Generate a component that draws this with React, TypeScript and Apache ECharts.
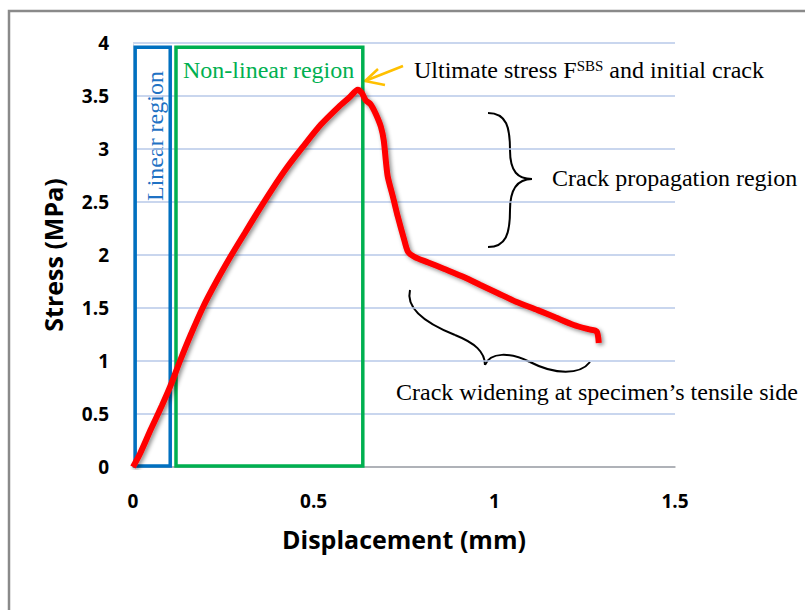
import React, { useEffect, useRef } from "react";
import * as echarts from "echarts";

// Displacement (mm) and stress (MPa)
const displacement = [
  0, 0.02, 0.05, 0.08, 0.103, 0.13, 0.16, 0.194, 0.23, 0.27, 0.31, 0.344, 0.385, 0.427, 0.47,
  0.52, 0.57, 0.6, 0.622, 0.633, 0.644, 0.658, 0.672, 0.686, 0.694, 0.7, 0.705, 0.72, 0.733,
  0.75, 0.761, 0.78, 0.817, 0.86, 0.917, 0.96, 1.01, 1.06, 1.12, 1.17, 1.22, 1.26, 1.283, 1.289,
];
const stress = [
  0, 0.13, 0.36, 0.58, 0.76, 1.0, 1.25, 1.51, 1.745, 1.985, 2.21, 2.4, 2.62, 2.83, 3.02,
  3.23, 3.4, 3.49, 3.56, 3.53, 3.46, 3.42, 3.33, 3.21, 3.08, 2.88, 2.74, 2.54, 2.36,
  2.15, 2.03, 1.98, 1.93, 1.87, 1.79, 1.72, 1.64, 1.56, 1.48, 1.41, 1.34, 1.3, 1.28, 1.17,
];

// Region boxes in data units: [xStart, yStart, xEnd, yEnd]
const linearRegion = [0.006, 0.01, 0.103, 3.96];
const nonLinearRegion = [0.119, 0.01, 0.636, 3.96];

const xTicks = { min: 0, max: 1.5, interval: 0.5 };
const yTicks = { min: 0, max: 4, interval: 0.5 };

export default function App() {
  const ref = useRef<HTMLDivElement>(null);

  useEffect(() => {
    if (!ref.current) return;
    const chart = echarts.init(ref.current, null, { renderer: "svg" });
    const serif = "'Liberation Serif', 'Times New Roman', serif";
    const sans = "'Open Sans', 'Noto Sans', sans-serif";

    const brace = (segs: number[][]) =>
      segs.map((s) => ({
        type: "bezierCurve",
        shape: { x1: s[0], y1: s[1], cpx1: s[2], cpy1: s[3], cpx2: s[4], cpy2: s[5], x2: s[6], y2: s[7] },
        style: { stroke: "#000", lineWidth: 2, fill: "none" },
        silent: true,
      }));

    chart.setOption({
      animation: false,
      backgroundColor: "#fff",
      grid: { left: 133, right: 130, top: 43, bottom: 143, containLabel: false },
      xAxis: {
        type: "value",
        min: xTicks.min,
        max: xTicks.max,
        interval: xTicks.interval,
        name: "Displacement (mm)",
        nameLocation: "middle",
        nameGap: 59,
        nameTextStyle: { fontFamily: sans, fontWeight: "bold", fontSize: 25, color: "#000", verticalAlign: "top" },
        axisLine: { show: true, lineStyle: { color: "#a6a6a6", width: 1.5 } },
        axisTick: { show: false },
        splitLine: { show: false },
        axisLabel: { fontFamily: sans, fontWeight: "bold", fontSize: 19, color: "#000", margin: 24 },
      },
      yAxis: {
        type: "value",
        min: yTicks.min,
        max: yTicks.max,
        interval: yTicks.interval,
        name: "Stress (MPa)",
        nameLocation: "middle",
        nameGap: 68,
        nameRotate: 90,
        nameTextStyle: { fontFamily: sans, fontWeight: "bold", fontSize: 25, color: "#000" },
        axisLine: { show: true, lineStyle: { color: "#d6dbe6", width: 1 } },
        axisTick: { show: false },
        splitLine: { show: true, lineStyle: { color: "#b7c9e8", width: 1.5 } },
        axisLabel: { fontFamily: sans, fontWeight: "bold", fontSize: 19, color: "#000", margin: 24 },
      },
      series: [
        {
          type: "line",
          data: displacement.map((d, i) => [d, stress[i]]),
          showSymbol: false,
          smooth: 0.25,
          lineStyle: {
            color: "#ff0000",
            width: 6,
            shadowColor: "rgba(0,0,0,0.45)",
            shadowBlur: 4,
            shadowOffsetX: 2,
            shadowOffsetY: 2,
          },
          markArea: {
            silent: true,
            data: [
              [
                {
                  coord: [linearRegion[0], linearRegion[3]],
                  itemStyle: { color: "rgba(0,0,0,0)", borderColor: "#0070c0", borderWidth: 3.5 },
                },
                { coord: [linearRegion[2], linearRegion[1]] },
              ],
              [
                {
                  coord: [nonLinearRegion[0], nonLinearRegion[3]],
                  itemStyle: { color: "rgba(0,0,0,0)", borderColor: "#00b050", borderWidth: 3.5 },
                },
                { coord: [nonLinearRegion[2], nonLinearRegion[1]] },
              ],
            ],
          },
        },
      ],
      graphic: [
        {
          type: "rect",
          shape: { x: 9, y: 11, width: 830, height: 640 },
          style: { fill: "none", stroke: "#8a8a8a", lineWidth: 2.5 },
          silent: true,
        },
        {
          type: "text",
          x: 155,
          y: 201,
          rotation: Math.PI / 2,
          style: {
            text: "Linear region",
            fontFamily: serif,
            fontSize: 24,
            fill: "#1f72c4",
            textAlign: "left",
            textVerticalAlign: "middle",
          },
        },
        {
          type: "text",
          x: 183,
          y: 70,
          style: {
            text: "Non-linear region",
            fontFamily: serif,
            fontSize: 24,
            fill: "#00b050",
            textAlign: "left",
            textVerticalAlign: "middle",
          },
        },
        {
          type: "text",
          x: 414,
          y: 70,
          style: {
            text: "Ultimate stress F{sup|SBS} and initial crack",
            fontFamily: serif,
            fontSize: 24,
            fill: "#000",
            textAlign: "left",
            textVerticalAlign: "middle",
            rich: {
              sup: { fontFamily: serif, fontSize: 15, fill: "#000", verticalAlign: "top", padding: [0, 0, 9, 0] },
            },
          },
        },
        {
          type: "line",
          shape: { x1: 403, y1: 66, x2: 365, y2: 81 },
          style: { stroke: "#ffc000", lineWidth: 2.5 },
          silent: true,
        },
        {
          type: "polyline",
          shape: { points: [[378, 69], [365, 81], [385, 85]] },
          style: { stroke: "#ffc000", lineWidth: 2.5, fill: "none" },
          silent: true,
        },
        ...brace([
          [488, 113, 507, 113, 510, 128, 510, 150],
          [510, 150, 510, 172, 518, 179, 532, 179],
          [532, 179, 518, 179, 510, 188, 510, 210],
          [510, 210, 510, 234, 506, 247, 488, 247],
        ]),
        {
          type: "text",
          x: 552,
          y: 178,
          style: {
            text: "Crack propagation region",
            fontFamily: serif,
            fontSize: 24,
            fill: "#000",
            textAlign: "left",
            textVerticalAlign: "middle",
          },
        },
        ...brace([
          [410, 290, 405, 310, 430, 325, 455, 335],
          [455, 335, 475, 343, 485, 352, 485, 365],
          [485, 365, 490, 352, 510, 352, 530, 362],
          [530, 362, 555, 375, 580, 375, 590, 362],
        ]),
        {
          type: "text",
          x: 396,
          y: 392,
          style: {
            text: "Crack widening at specimen\u2019s tensile side",
            fontFamily: serif,
            fontSize: 24,
            fill: "#000",
            textAlign: "left",
            textVerticalAlign: "middle",
          },
        },
      ],
    });
    return () => chart.dispose();
  }, []);

  return (
    <div
      ref={ref}
      style={{ position: "fixed", left: 0, top: 0, width: 805, height: 610, background: "#fff" }}
    />
  );
}
